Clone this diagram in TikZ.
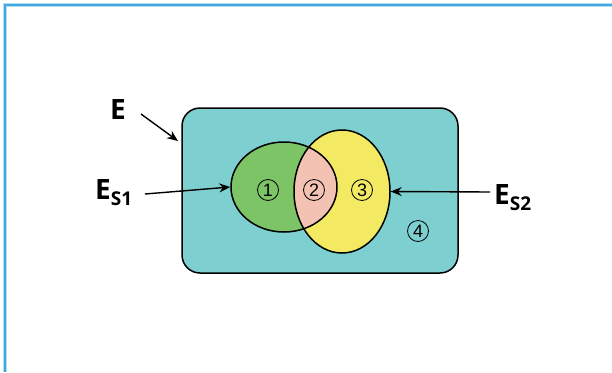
\documentclass[tikz,border=0pt]{standalone}
\usepackage{fontspec}
\setmainfont{Open Sans}
\newfontfamily\numfont{Liberation Sans}
\usetikzlibrary{shapes.geometric,arrows.meta}
\definecolor{frameblue}{HTML}{3FA9E0}
\definecolor{teal}{HTML}{7ECFD0}
\definecolor{sgreen}{HTML}{7DC466}
\definecolor{syellow}{HTML}{F3E962}
\definecolor{spink}{HTML}{F4C2B2}
\tikzset{
  lbl/.style={font=\fontsize{28}{30}\selectfont\bfseries, inner sep=0pt},
  num/.style={circle, draw, line width=0.8pt, minimum size=21pt, inner sep=0pt,
    font=\numfont\fontsize{18}{20}\selectfont},
  arr/.style={-{Stealth[length=11pt,width=9pt]}, line width=1.4pt},
  outl/.style={line width=1.5pt, draw=black},
}
\begin{document}
\begin{tikzpicture}[x=1pt,y=-1pt]
\useasboundingbox (0,0) rectangle (612,372);
% frame
\draw[frameblue!40, line width=3.5pt] (5,372) -- (5,5) -- (612,5);
\draw[frameblue, line width=1.6pt] (5,372) -- (5,5) -- (612,5);
% universe
\node[draw, outl, fill=teal, rounded corners=18pt, minimum width=276pt, minimum height=165pt, inner sep=0pt] (U) at (320,190.5) {};
% ellipses fills
\fill[sgreen] (284,187) ellipse (53pt and 45pt);
\fill[syellow] (342,191.5) ellipse (48pt and 61.5pt);
\begin{scope}
\clip (284,187) ellipse (53pt and 45pt);
\fill[spink] (342,191.5) ellipse (48pt and 61.5pt);
\end{scope}
\node[ellipse, outl, minimum width=106pt, minimum height=90pt, inner sep=0pt] (S1) at (284,187) {};
\node[ellipse, outl, minimum width=96pt, minimum height=123pt, inner sep=0pt] (S2) at (342,191.5) {};
% numbers
\node[num] (n1) at (268,190) {1};
\node[num] (n2) at (314,190) {2};
\node[num] (n3) at (362,190) {3};
\node[num] (n4) at (418,231) {4};
% labels
\node[lbl] (E) at (118,110) {E};
\node[lbl, anchor=base west] (ES1) at (95,199) {E\raisebox{-6pt}{\fontsize{19}{20}\selectfont S1}};
\node[lbl, anchor=base west] (ES2) at (494,204) {E\raisebox{-6pt}{\fontsize{19}{20}\selectfont S2}};
\coordinate (Etip) at (178,141);
\coordinate (ES1s) at (145,194);
\coordinate (ES2s) at (490,192);
\draw[arr] (141,114) -- (Etip);
\draw[arr] (ES1s) -- (S1.west);
\draw[arr] (ES2s) -- (S2.east);
\end{tikzpicture}
\end{document}
